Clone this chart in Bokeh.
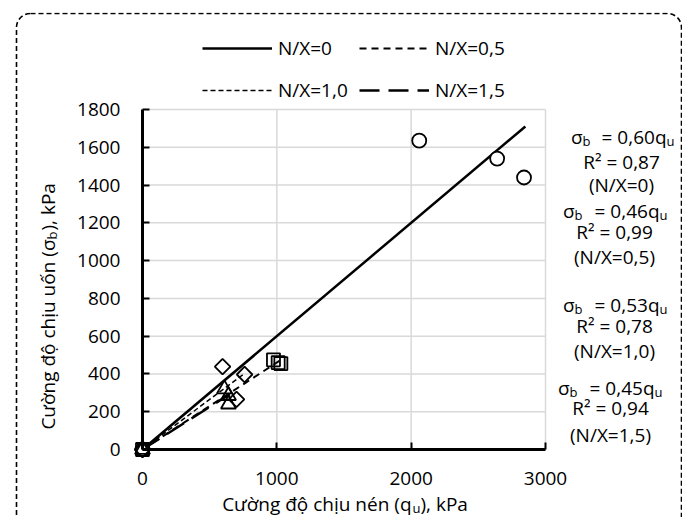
from math import pi
from bokeh.plotting import figure
from bokeh.models import Legend, LegendItem, Label, Range1d, FixedTicker
from bokeh.embed import file_html
from bokeh.resources import INLINE

# ---------------- data ----------------
nx0_q = [0, 2060, 2640, 2840]
nx0_s = [0, 1635, 1540, 1440]
nx05_q = [0, 975, 1010, 1030]
nx05_s = [0, 475, 460, 455]
nx10_q = [0, 596, 760, 700]
nx10_s = [0, 439, 397, 265]
nx15_q = [0, 610, 640, 640]
nx15_s = [0, 320, 285, 240]

fit0_x, fit0_y = [0, 2850], [0, 1710]
fit05_x, fit05_y = [0, 1030], [0, 474]
fit10_x, fit10_y = [0, 760], [0, 403]
fit15_x, fit15_y = [0, 650], [0, 293]

x_ticks = [0, 1000, 2000, 3000]
y_ticks = [0, 200, 400, 600, 800, 1000, 1200, 1400, 1600, 1800]
x_grid = [1000, 2000, 3000]
y_grid = [200, 400, 600, 800, 1000, 1200, 1400, 1600, 1800]

series_names = ["N/X=0", "N/X=0,5", "N/X=1,0", "N/X=1,5"]
coef_text = ["0,60", "0,46", "0,53", "0,45"]
r2_text = ["0,87", "0,99", "0,78", "0,94"]

# ---------------- layout ----------------
FONT = "Open Sans"
FS = "19px"
SUB = "13px"
W, H = 672, 505
CX0, CY0 = 11, 13                # canvas origin in the picture
PL, PR, PT, PB = 143, 546, 110, 450   # data area in the picture
XMAX, YMAX = 3000, 1800

def X(px):
    return (px - PL) / (PR - PL) * XMAX

def Y(py):
    return (PB - py) / (PB - PT) * YMAX

p = figure(width=W, height=H, output_backend="svg", toolbar_location=None,
           x_range=Range1d(X(CX0), X(CX0 + W)), y_range=Range1d(Y(CY0 + H), Y(CY0)),
           min_border=0, styles={"margin-left": "10px", "margin-top": "12px"})
p.title.visible = False
p.outline_line_color = None
p.background_fill_color = "white"
p.border_fill_color = "white"
p.grid.visible = False

# dashed rounded frame of the picture
p.quad(left=[X(17)], right=[X(682)], top=[Y(14)], bottom=[Y(540)], fill_color=None,
       line_color="black", line_width=1.6, line_dash="5 3", border_radius=14)

# grid
p.segment(x0=x_grid, y0=[0] * len(x_grid), x1=x_grid, y1=[YMAX] * len(x_grid),
          line_color="#d9d9d9", line_width=1.5)
p.segment(x0=[0] * len(y_grid), y0=y_grid, x1=[XMAX] * len(y_grid), y1=y_grid,
          line_color="#d9d9d9", line_width=1.5)

for ax, ticks, bnd in ((p.xaxis, x_ticks, (0, XMAX)), (p.yaxis, y_ticks, (0, YMAX))):
    ax.fixed_location = 0
    ax.bounds = bnd
    ax.ticker = FixedTicker(ticks=ticks)
    ax.axis_line_width = 3
    ax.axis_line_color = "black"
    ax.major_tick_in = 7
    ax.major_tick_out = 0
    ax.major_tick_line_width = 2
    ax.minor_tick_line_color = None
    ax.major_label_text_font = FONT
    ax.major_label_text_font_size = FS
    ax.major_label_text_color = "black"
p.yaxis.major_label_standoff = 22
p.xaxis.major_label_standoff = 22

l0 = p.line(fit0_x, fit0_y, line_color="black", line_width=2.5)
l05 = p.line(fit05_x, fit05_y, line_color="black", line_width=2, line_dash="7 5")
l10 = p.line(fit10_x, fit10_y, line_color="black", line_width=1.5, line_dash="5 3")
l15 = p.line(fit15_x, fit15_y, line_color="black", line_width=2.5, line_dash="20 9")

p.scatter(nx0_q, nx0_s, marker="circle", size=14, fill_color="white", line_color="black", line_width=1.8)
p.scatter(nx05_q, nx05_s, marker="square", size=13, fill_color=None, line_color="black", line_width=1.8)
p.scatter(nx10_q, nx10_s, marker="square", angle=pi / 4, size=11, fill_color=None, line_color="black", line_width=1.8)
p.scatter(nx15_q, nx15_s, marker="triangle", size=15, fill_color=None, line_color="black", line_width=1.8)

def make_legend(items, x_px):
    leg = Legend(items=items, location=(x_px - CX0, CY0 + H - 104), orientation="vertical",
                 border_line_color=None, background_fill_alpha=0, padding=0, margin=0,
                 spacing=16, glyph_width=70, glyph_height=20, label_height=20, label_standoff=6,
                 label_text_font=FONT, label_text_font_size=FS, label_text_color="black")
    p.add_layout(leg)

make_legend([LegendItem(label=series_names[0], renderers=[l0]),
             LegendItem(label=series_names[2], renderers=[l10])], 203)
make_legend([LegendItem(label=series_names[1], renderers=[l05]),
             LegendItem(label=series_names[3], renderers=[l15])], 360)

def lab(text, px, py, size=FS, align="left", angle=0.0):
    p.add_layout(Label(x=X(px), y=Y(py), text=text, text_font=FONT, text_font_size=size,
                       text_align=align, text_baseline="alphabetic", text_color="black", angle=angle))

# x-axis title: Cường độ chịu nén (q_u), kPa
lab("Cường độ chịu nén (q", 412, 504, align="right")
lab("u", 413, 508, size=SUB)
lab("), kPa", 421, 504)

# y-axis title (rotated): Cường độ chịu uốn (σ_b), kPa
lab("Cường độ chịu uốn (σ", 48, 240, align="right", angle=pi / 2)
lab("b", 52, 240, size=SUB, angle=pi / 2)
lab("), kPa", 48, 231, angle=pi / 2)

# right-hand equations
groups = [
    # sigma baseline, sigma right x, q right x, R2 baseline, center x, N/X baseline
    (137, 583, 667, 162, 622, 185),
    (211, 575, 660, 232, 615, 257),
    (305, 575, 660, 326, 615, 351),
    (388, 570, 655, 408, 611, 435),
]
for i, (sb, sx, qx, rb, cx, nb) in enumerate(groups):
    lab("σ", sx, sb, align="right")
    lab("b", sx, sb + 4, size=SUB)
    lab("= " + coef_text[i] + "q", qx, sb, align="right")
    lab("u", qx, sb + 4, size=SUB)
    lab("R² = " + r2_text[i], cx, rb, align="center")
    lab("(" + series_names[i] + ")", cx, nb, align="center")

open("out.html", "w").write(file_html(p, INLINE))
